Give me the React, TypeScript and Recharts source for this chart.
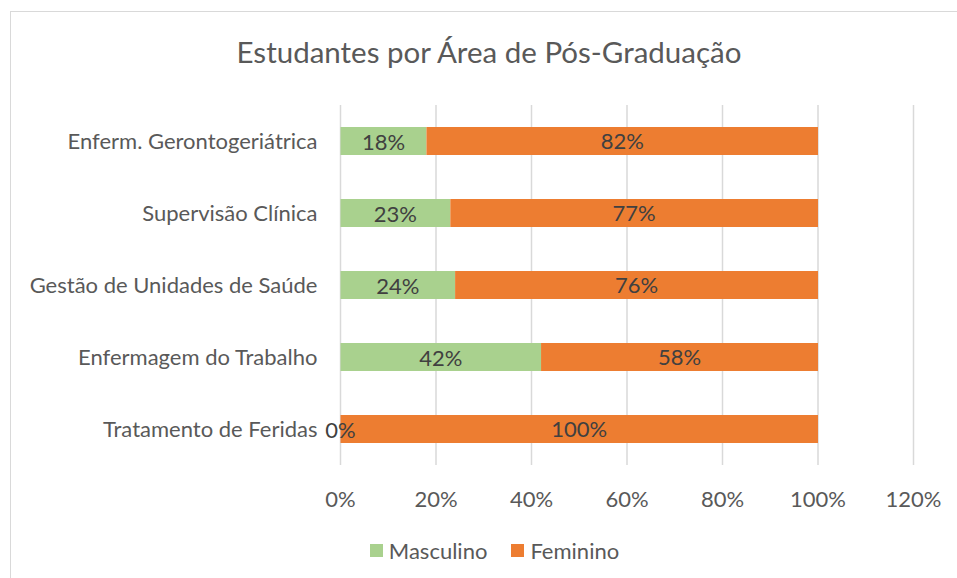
import React from "react";
import { BarChart, Bar, XAxis, YAxis, CartesianGrid, Legend, LabelList } from "recharts";

const categories = [
  "Enferm. Gerontogeriátrica",
  "Supervisão Clínica",
  "Gestão de Unidades de Saúde",
  "Enfermagem do Trabalho",
  "Tratamento de Feridas",
];
const masculino = [18, 23, 24, 42, 0];
const feminino = [82, 77, 76, 58, 100];
const xTicks = [0, 20, 40, 60, 80, 100, 120];
const seriesNames = ["Masculino", "Feminino"];
const seriesColors = ["#A9D18E", "#ED7D31"];

const data = categories.map((c, i) => ({ name: c, m: masculino[i], f: feminino[i] }));

const FONT = "Lato, 'Open Sans', sans-serif";
const TEXT = "#595959";
const LABEL = "#404040";
const FS = 22;

const LegendContent = () => (
  <div style={{ display: "flex", justifyContent: "center", alignItems: "center", height: 30, fontFamily: FONT, fontSize: FS, color: TEXT, paddingLeft: 75 }}>
    {seriesNames.map((n, i) => (
      <div key={n} style={{ display: "flex", alignItems: "center", marginRight: i === 0 ? 24 : 0 }}>
        <div style={{ width: 13, height: 13, background: seriesColors[i], marginRight: 6 }} />
        <span>{n}</span>
      </div>
    ))}
  </div>
);

// Masculino label drawn on top of the stacked bars, positioned from the Feminino rect geometry
const MascLabel = (props: any) => {
  const { x, y, width, height, value, index } = props;
  const f = data[index].f;
  const pxPerUnit = f ? width / f : 0;
  const cx = x - (value * pxPerUnit) / 2;
  return (
    <text x={cx} y={y + height / 2} textAnchor="middle" dominantBaseline="central" fill={LABEL} fontSize={FS} fontFamily={FONT}>
      {`${value}%`}
    </text>
  );
};

export default function App() {
  return (
    <div style={{ position: "absolute", left: 0, top: 0, width: 957, height: 578, overflow: "hidden", background: "#fff" }}>
      <div style={{ position: "absolute", left: 10, top: 11, width: 958, height: 600, border: "1px solid #D9D9D9", boxSizing: "border-box" }} />
      <div style={{ position: "absolute", left: 0, top: 32, width: 978, textAlign: "center", fontFamily: FONT, fontSize: 29.5, color: TEXT, lineHeight: "40px" }}>
        Estudantes por Área de Pós-Graduação
      </div>
      <div style={{ position: "absolute", left: 0, top: 0 }}>
        <BarChart
          width={957}
          height={578}
          data={data}
          layout="vertical"
          margin={{ top: 105, right: 43.5, bottom: 13, left: 0.5 }}
          barSize={28}
        >
          <CartesianGrid horizontal={false} stroke="#D9D9D9" strokeWidth={1.5} />
          <XAxis
            type="number"
            domain={[0, 120]}
            ticks={xTicks}
            tickFormatter={(v) => `${v}%`}
            axisLine={false}
            tickLine={false}
            tickMargin={20}
            height={70}
            tick={{ fill: TEXT, fontSize: FS, fontFamily: FONT }}
            interval={0}
          />
          <YAxis
            type="category"
            dataKey="name"
            width={340}
            axisLine={false}
            tickLine={false}
            tickMargin={17}
            tick={{ fill: TEXT, fontSize: FS, fontFamily: FONT }}
            interval={0}
          />
          <Legend verticalAlign="bottom" height={30} content={<LegendContent />} />
          <Bar dataKey="m" name={seriesNames[0]} stackId="a" fill={seriesColors[0]} isAnimationActive={false} />
          <Bar dataKey="f" name={seriesNames[1]} stackId="a" fill={seriesColors[1]} isAnimationActive={false}>
            <LabelList dataKey="f" position="center" formatter={(v: any) => `${v}%`} fill={LABEL} fontSize={FS} fontFamily={FONT} />
            <LabelList dataKey="m" content={<MascLabel />} />
          </Bar>
        </BarChart>
      </div>
    </div>
  );
}
